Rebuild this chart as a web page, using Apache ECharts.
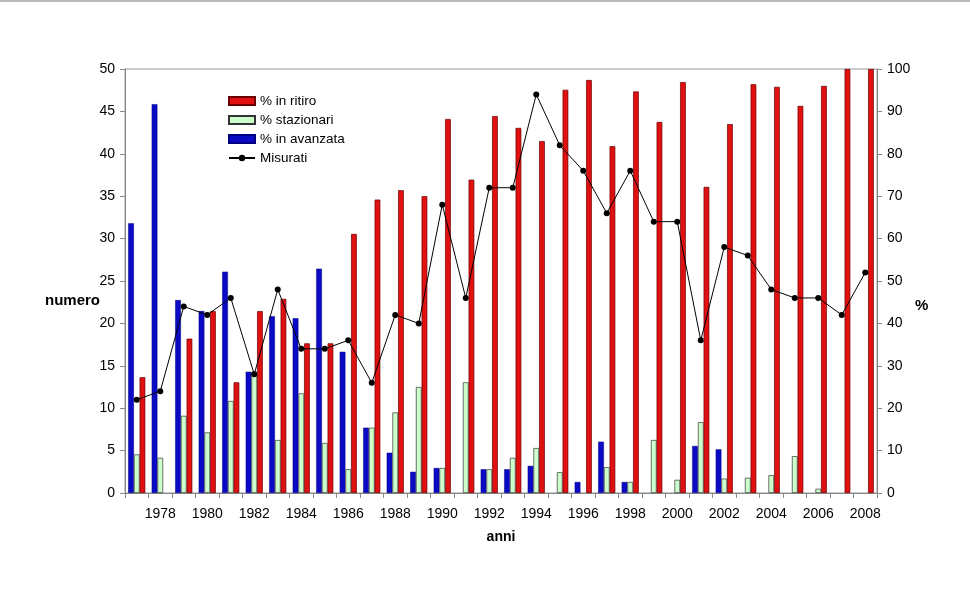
<!DOCTYPE html>
<html>
<head>
<meta charset="utf-8">
<script src="https://cdn.jsdelivr.net/npm/echarts@6/dist/echarts.min.js"></script>
<style>
html,body{margin:0;padding:0;background:#fff;}
#c{width:970px;height:606px;box-sizing:border-box;border-top:2px solid #bbbbbb;}
</style>
</head>
<body>
<div id="c"></div>
<script>
var years = ['1977','1978','1979','1980','1981','1982','1983','1984','1985','1986','1987','1988','1989','1990','1991','1992','1993','1994','1995','1996','1997','1998','1999','2000','2001','2002','2003','2004','2005','2006','2007','2008'];
var inAvanzata = [63.6,91.7,45.5,42.9,52.2,28.6,41.7,41.2,52.9,33.3,15.4,9.5,5.0,5.9,null,5.6,5.6,6.4,null,2.6,12.1,2.6,null,null,11.1,10.3,null,null,null,null,null,null];
var stazionari = [9.1,8.3,18.2,14.3,21.7,28.6,12.5,23.5,11.8,5.6,15.4,19.0,25.0,5.9,26.1,5.6,8.3,10.6,4.9,null,6.1,2.6,12.5,3.1,16.7,3.4,3.6,4.2,8.7,1.0,null,null];
var inRitiro = [27.3,null,36.4,42.9,26.1,42.9,45.8,35.3,35.3,61.1,69.2,71.4,70.0,88.2,73.9,88.9,86.1,83.0,95.1,97.4,81.8,94.7,87.5,96.9,72.2,87.0,96.4,95.8,91.3,96.0,100,100];
var misurati = [11,12,22,21,23,14,24,17,17,18,13,21,20,34,23,36,36,47,41,38,33,38,32,32,18,29,28,24,23,23,21,26];

var FONT = 'Liberation Sans, Arial, sans-serif';
var chart = echarts.init(document.getElementById('c'));
chart.setOption({
  animation: false,
  textStyle: {fontFamily: FONT},
  grid: {left: 125, right: 93, top: 67, bottom: 113, show: true, borderColor: '#999', borderWidth: 1},
  legend: {
    orient: 'vertical', left: 228, top: 92, padding: 0, itemWidth: 26, itemHeight: 8, itemGap: 5,
    textStyle: {fontFamily: FONT, fontSize: 13.5, color: '#000'},
    data: [
      {name: '% in ritiro', icon: 'rect'},
      {name: '% stazionari', icon: 'rect'},
      {name: '% in avanzata', icon: 'rect'},
      {name: 'Misurati'}
    ]
  },
  graphic: [
    {type: 'text', left: 45, top: 291, style: {text: 'numero', font: 'bold 15px Liberation Sans, Arial, sans-serif', fill: '#000'}},
    {type: 'text', left: 915, top: 296, style: {text: '%', font: 'bold 15px Liberation Sans, Arial, sans-serif', fill: '#000'}}
  ],
  xAxis: {
    type: 'category', data: years, name: 'anni', nameLocation: 'middle', nameGap: 37,
    nameTextStyle: {fontWeight: 'bold', fontSize: 14, color: '#000', fontFamily: FONT},
    axisLine: {lineStyle: {color: '#888'}},
    axisTick: {show: true, interval: 0, lineStyle: {color: '#888'}},
    axisLabel: {interval: function (i) { return i % 2 === 1; }, fontSize: 14, color: '#000', margin: 14, fontFamily: FONT}
  },
  yAxis: [
    {
      type: 'value', min: 0, max: 50, interval: 5,
      axisLine: {show: true, lineStyle: {color: '#888'}}, axisTick: {show: true, lineStyle: {color: '#888'}},
      splitLine: {show: false},
      axisLabel: {fontSize: 14, color: '#000', margin: 10, fontFamily: FONT}
    },
    {
      type: 'value', min: 0, max: 100, interval: 10,
      axisLine: {show: true, lineStyle: {color: '#888'}}, axisTick: {show: true, lineStyle: {color: '#888'}},
      splitLine: {show: false},
      axisLabel: {fontSize: 14, color: '#000', margin: 10, fontFamily: FONT}
    }
  ],
  series: [
    {name: '% in avanzata', type: 'bar', yAxisIndex: 1, data: inAvanzata, barWidth: 5.7, barGap: '0%',
     itemStyle: {color: '#0a0ac4', borderColor: '#000080', borderWidth: 0.5}},
    {name: '% stazionari', type: 'bar', yAxisIndex: 1, data: stazionari, barWidth: 5.7, barGap: '0%',
     itemStyle: {color: '#ccffcc', borderColor: '#333', borderWidth: 0.7}},
    {name: '% in ritiro', type: 'bar', yAxisIndex: 1, data: inRitiro, barWidth: 5.7, barGap: '0%',
     itemStyle: {color: '#e01010', borderColor: '#6a0000', borderWidth: 0.7}},
    {name: 'Misurati', type: 'line', yAxisIndex: 0, data: misurati, symbol: 'circle', symbolSize: 6,
     lineStyle: {color: '#000', width: 1}, itemStyle: {color: '#000'}, z: 5}
  ]
});
</script>
</body>
</html>
